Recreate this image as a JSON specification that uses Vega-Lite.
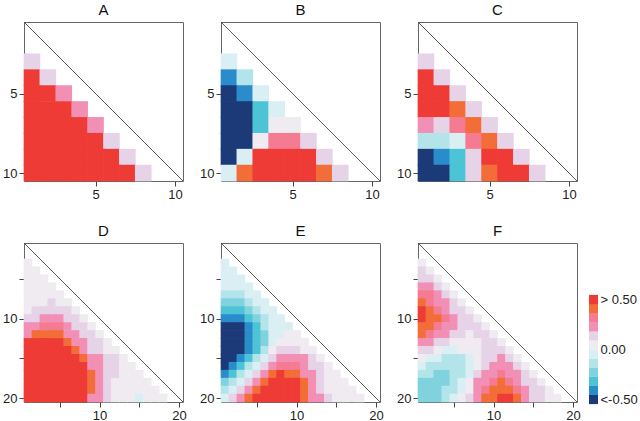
{
"$schema": "https://vega.github.io/schema/vega-lite/v6.json",
"padding": {"left": 2, "top": 2, "right": 2, "bottom": 2},
"background": "white",
"spacing": 21,
"datasets": {
"cells": [
{"p":"A","r":3,"c":1,"v":0.15},
{"p":"A","r":4,"c":1,"v":0.6},{"p":"A","r":4,"c":2,"v":0.15},
{"p":"A","r":5,"c":1,"v":0.6},{"p":"A","r":5,"c":2,"v":0.6},{"p":"A","r":5,"c":3,"v":0.25},
{"p":"A","r":6,"c":1,"v":0.6},{"p":"A","r":6,"c":2,"v":0.6},{"p":"A","r":6,"c":3,"v":0.6},{"p":"A","r":6,"c":4,"v":0.25},
{"p":"A","r":7,"c":1,"v":0.6},{"p":"A","r":7,"c":2,"v":0.6},{"p":"A","r":7,"c":3,"v":0.6},{"p":"A","r":7,"c":4,"v":0.6},{"p":"A","r":7,"c":5,"v":0.25},
{"p":"A","r":8,"c":1,"v":0.6},{"p":"A","r":8,"c":2,"v":0.6},{"p":"A","r":8,"c":3,"v":0.6},{"p":"A","r":8,"c":4,"v":0.6},{"p":"A","r":8,"c":5,"v":0.6},{"p":"A","r":8,"c":6,"v":0.15},
{"p":"A","r":9,"c":1,"v":0.6},{"p":"A","r":9,"c":2,"v":0.6},{"p":"A","r":9,"c":3,"v":0.6},{"p":"A","r":9,"c":4,"v":0.6},{"p":"A","r":9,"c":5,"v":0.6},{"p":"A","r":9,"c":6,"v":0.6},{"p":"A","r":9,"c":7,"v":0.15},
{"p":"A","r":10,"c":1,"v":0.6},{"p":"A","r":10,"c":2,"v":0.6},{"p":"A","r":10,"c":3,"v":0.6},{"p":"A","r":10,"c":4,"v":0.6},{"p":"A","r":10,"c":5,"v":0.6},{"p":"A","r":10,"c":6,"v":0.6},{"p":"A","r":10,"c":7,"v":0.6},{"p":"A","r":10,"c":8,"v":0.15},

{"p":"B","r":3,"c":1,"v":-0.05},
{"p":"B","r":4,"c":1,"v":-0.45},{"p":"B","r":4,"c":2,"v":-0.15},
{"p":"B","r":5,"c":1,"v":-0.6},{"p":"B","r":5,"c":2,"v":-0.45},{"p":"B","r":5,"c":3,"v":-0.05},
{"p":"B","r":6,"c":1,"v":-0.6},{"p":"B","r":6,"c":2,"v":-0.6},{"p":"B","r":6,"c":3,"v":-0.35},{"p":"B","r":6,"c":4,"v":-0.05},
{"p":"B","r":7,"c":1,"v":-0.6},{"p":"B","r":7,"c":2,"v":-0.6},{"p":"B","r":7,"c":3,"v":-0.35},{"p":"B","r":7,"c":4,"v":0.05},{"p":"B","r":7,"c":5,"v":0.05},
{"p":"B","r":8,"c":1,"v":-0.6},{"p":"B","r":8,"c":2,"v":-0.6},{"p":"B","r":8,"c":3,"v":0.05},{"p":"B","r":8,"c":4,"v":0.35},{"p":"B","r":8,"c":5,"v":0.35},{"p":"B","r":8,"c":6,"v":0.15},
{"p":"B","r":9,"c":1,"v":-0.6},{"p":"B","r":9,"c":2,"v":-0.05},{"p":"B","r":9,"c":3,"v":0.6},{"p":"B","r":9,"c":4,"v":0.6},{"p":"B","r":9,"c":5,"v":0.6},{"p":"B","r":9,"c":6,"v":0.6},{"p":"B","r":9,"c":7,"v":0.15},
{"p":"B","r":10,"c":1,"v":-0.05},{"p":"B","r":10,"c":2,"v":0.45},{"p":"B","r":10,"c":3,"v":0.6},{"p":"B","r":10,"c":4,"v":0.6},{"p":"B","r":10,"c":5,"v":0.6},{"p":"B","r":10,"c":6,"v":0.6},{"p":"B","r":10,"c":7,"v":0.45},{"p":"B","r":10,"c":8,"v":0.15},

{"p":"C","r":3,"c":1,"v":0.15},
{"p":"C","r":4,"c":1,"v":0.6},{"p":"C","r":4,"c":2,"v":0.15},
{"p":"C","r":5,"c":1,"v":0.6},{"p":"C","r":5,"c":2,"v":0.6},{"p":"C","r":5,"c":3,"v":0.15},
{"p":"C","r":6,"c":1,"v":0.6},{"p":"C","r":6,"c":2,"v":0.6},{"p":"C","r":6,"c":3,"v":0.45},{"p":"C","r":6,"c":4,"v":0.15},
{"p":"C","r":7,"c":1,"v":0.25},{"p":"C","r":7,"c":2,"v":0.15},{"p":"C","r":7,"c":3,"v":0.35},{"p":"C","r":7,"c":4,"v":0.45},{"p":"C","r":7,"c":5,"v":0.15},
{"p":"C","r":8,"c":1,"v":-0.15},{"p":"C","r":8,"c":2,"v":-0.15},{"p":"C","r":8,"c":3,"v":-0.05},{"p":"C","r":8,"c":4,"v":0.35},{"p":"C","r":8,"c":5,"v":0.45},{"p":"C","r":8,"c":6,"v":0.15},
{"p":"C","r":9,"c":1,"v":-0.6},{"p":"C","r":9,"c":2,"v":-0.45},{"p":"C","r":9,"c":3,"v":-0.35},{"p":"C","r":9,"c":4,"v":0.15},{"p":"C","r":9,"c":5,"v":0.6},{"p":"C","r":9,"c":6,"v":0.6},{"p":"C","r":9,"c":7,"v":0.15},
{"p":"C","r":10,"c":1,"v":-0.6},{"p":"C","r":10,"c":2,"v":-0.6},{"p":"C","r":10,"c":3,"v":-0.35},{"p":"C","r":10,"c":4,"v":0.15},{"p":"C","r":10,"c":5,"v":0.45},{"p":"C","r":10,"c":6,"v":0.6},{"p":"C","r":10,"c":7,"v":0.6},{"p":"C","r":10,"c":8,"v":0.15},

{"p":"D","r":3,"c":1,"v":0.05},
{"p":"D","r":4,"c":1,"v":0.05},{"p":"D","r":4,"c":2,"v":0.05},
{"p":"D","r":5,"c":1,"v":0.05},{"p":"D","r":5,"c":2,"v":0.05},{"p":"D","r":5,"c":3,"v":0.05},
{"p":"D","r":6,"c":1,"v":0.05},{"p":"D","r":6,"c":2,"v":0.05},{"p":"D","r":6,"c":3,"v":0.05},{"p":"D","r":6,"c":4,"v":0.05},
{"p":"D","r":7,"c":1,"v":0.05},{"p":"D","r":7,"c":2,"v":0.05},{"p":"D","r":7,"c":3,"v":0.05},{"p":"D","r":7,"c":4,"v":0.05},{"p":"D","r":7,"c":5,"v":0.05},
{"p":"D","r":8,"c":1,"v":0.05},{"p":"D","r":8,"c":2,"v":0.05},{"p":"D","r":8,"c":3,"v":0.05},{"p":"D","r":8,"c":4,"v":0.15},{"p":"D","r":8,"c":5,"v":0.05},{"p":"D","r":8,"c":6,"v":0.05},
{"p":"D","r":9,"c":1,"v":0.05},{"p":"D","r":9,"c":2,"v":0.15},{"p":"D","r":9,"c":3,"v":0.15},{"p":"D","r":9,"c":4,"v":0.15},{"p":"D","r":9,"c":5,"v":0.15},{"p":"D","r":9,"c":6,"v":0.15},{"p":"D","r":9,"c":7,"v":0.05},
{"p":"D","r":10,"c":1,"v":0.15},{"p":"D","r":10,"c":2,"v":0.15},{"p":"D","r":10,"c":3,"v":0.25},{"p":"D","r":10,"c":4,"v":0.25},{"p":"D","r":10,"c":5,"v":0.25},{"p":"D","r":10,"c":6,"v":0.15},{"p":"D","r":10,"c":7,"v":0.15},{"p":"D","r":10,"c":8,"v":0.05},
{"p":"D","r":11,"c":1,"v":0.25},{"p":"D","r":11,"c":2,"v":0.25},{"p":"D","r":11,"c":3,"v":0.35},{"p":"D","r":11,"c":4,"v":0.35},{"p":"D","r":11,"c":5,"v":0.35},{"p":"D","r":11,"c":6,"v":0.25},{"p":"D","r":11,"c":7,"v":0.15},{"p":"D","r":11,"c":8,"v":0.15},{"p":"D","r":11,"c":9,"v":0.05},
{"p":"D","r":12,"c":1,"v":0.25},{"p":"D","r":12,"c":2,"v":0.45},{"p":"D","r":12,"c":3,"v":0.45},{"p":"D","r":12,"c":4,"v":0.45},{"p":"D","r":12,"c":5,"v":0.45},{"p":"D","r":12,"c":6,"v":0.25},{"p":"D","r":12,"c":7,"v":0.25},{"p":"D","r":12,"c":8,"v":0.15},{"p":"D","r":12,"c":9,"v":0.15},{"p":"D","r":12,"c":10,"v":0.05},
{"p":"D","r":13,"c":1,"v":0.6},{"p":"D","r":13,"c":2,"v":0.6},{"p":"D","r":13,"c":3,"v":0.6},{"p":"D","r":13,"c":4,"v":0.6},{"p":"D","r":13,"c":5,"v":0.6},{"p":"D","r":13,"c":6,"v":0.45},{"p":"D","r":13,"c":7,"v":0.25},{"p":"D","r":13,"c":8,"v":0.25},{"p":"D","r":13,"c":9,"v":0.15},{"p":"D","r":13,"c":10,"v":0.15},{"p":"D","r":13,"c":11,"v":0.05},
{"p":"D","r":14,"c":1,"v":0.6},{"p":"D","r":14,"c":2,"v":0.6},{"p":"D","r":14,"c":3,"v":0.6},{"p":"D","r":14,"c":4,"v":0.6},{"p":"D","r":14,"c":5,"v":0.6},{"p":"D","r":14,"c":6,"v":0.6},{"p":"D","r":14,"c":7,"v":0.45},{"p":"D","r":14,"c":8,"v":0.25},{"p":"D","r":14,"c":9,"v":0.15},{"p":"D","r":14,"c":10,"v":0.15},{"p":"D","r":14,"c":11,"v":0.05},{"p":"D","r":14,"c":12,"v":0.05},
{"p":"D","r":15,"c":1,"v":0.6},{"p":"D","r":15,"c":2,"v":0.6},{"p":"D","r":15,"c":3,"v":0.6},{"p":"D","r":15,"c":4,"v":0.6},{"p":"D","r":15,"c":5,"v":0.6},{"p":"D","r":15,"c":6,"v":0.6},{"p":"D","r":15,"c":7,"v":0.6},{"p":"D","r":15,"c":8,"v":0.45},{"p":"D","r":15,"c":9,"v":0.25},{"p":"D","r":15,"c":10,"v":0.25},{"p":"D","r":15,"c":11,"v":0.15},{"p":"D","r":15,"c":12,"v":0.15},{"p":"D","r":15,"c":13,"v":0.05},
{"p":"D","r":16,"c":1,"v":0.6},{"p":"D","r":16,"c":2,"v":0.6},{"p":"D","r":16,"c":3,"v":0.6},{"p":"D","r":16,"c":4,"v":0.6},{"p":"D","r":16,"c":5,"v":0.6},{"p":"D","r":16,"c":6,"v":0.6},{"p":"D","r":16,"c":7,"v":0.6},{"p":"D","r":16,"c":8,"v":0.6},{"p":"D","r":16,"c":9,"v":0.25},{"p":"D","r":16,"c":10,"v":0.25},{"p":"D","r":16,"c":11,"v":0.15},{"p":"D","r":16,"c":12,"v":0.15},{"p":"D","r":16,"c":13,"v":0.05},{"p":"D","r":16,"c":14,"v":0.05},
{"p":"D","r":17,"c":1,"v":0.6},{"p":"D","r":17,"c":2,"v":0.6},{"p":"D","r":17,"c":3,"v":0.6},{"p":"D","r":17,"c":4,"v":0.6},{"p":"D","r":17,"c":5,"v":0.6},{"p":"D","r":17,"c":6,"v":0.6},{"p":"D","r":17,"c":7,"v":0.6},{"p":"D","r":17,"c":8,"v":0.6},{"p":"D","r":17,"c":9,"v":0.45},{"p":"D","r":17,"c":10,"v":0.25},{"p":"D","r":17,"c":11,"v":0.15},{"p":"D","r":17,"c":12,"v":0.15},{"p":"D","r":17,"c":13,"v":0.05},{"p":"D","r":17,"c":14,"v":0.05},{"p":"D","r":17,"c":15,"v":0.05},
{"p":"D","r":18,"c":1,"v":0.6},{"p":"D","r":18,"c":2,"v":0.6},{"p":"D","r":18,"c":3,"v":0.6},{"p":"D","r":18,"c":4,"v":0.6},{"p":"D","r":18,"c":5,"v":0.6},{"p":"D","r":18,"c":6,"v":0.6},{"p":"D","r":18,"c":7,"v":0.6},{"p":"D","r":18,"c":8,"v":0.6},{"p":"D","r":18,"c":9,"v":0.45},{"p":"D","r":18,"c":10,"v":0.25},{"p":"D","r":18,"c":11,"v":0.15},{"p":"D","r":18,"c":12,"v":0.05},{"p":"D","r":18,"c":13,"v":0.05},{"p":"D","r":18,"c":14,"v":0.05},{"p":"D","r":18,"c":15,"v":0.05},{"p":"D","r":18,"c":16,"v":0.05},
{"p":"D","r":19,"c":1,"v":0.6},{"p":"D","r":19,"c":2,"v":0.6},{"p":"D","r":19,"c":3,"v":0.6},{"p":"D","r":19,"c":4,"v":0.6},{"p":"D","r":19,"c":5,"v":0.6},{"p":"D","r":19,"c":6,"v":0.6},{"p":"D","r":19,"c":7,"v":0.6},{"p":"D","r":19,"c":8,"v":0.6},{"p":"D","r":19,"c":9,"v":0.45},{"p":"D","r":19,"c":10,"v":0.25},{"p":"D","r":19,"c":11,"v":0.15},{"p":"D","r":19,"c":12,"v":0.05},{"p":"D","r":19,"c":13,"v":0.05},{"p":"D","r":19,"c":14,"v":0.05},{"p":"D","r":19,"c":15,"v":0.05},{"p":"D","r":19,"c":16,"v":0.05},{"p":"D","r":19,"c":17,"v":0.05},
{"p":"D","r":20,"c":1,"v":0.6},{"p":"D","r":20,"c":2,"v":0.6},{"p":"D","r":20,"c":3,"v":0.6},{"p":"D","r":20,"c":4,"v":0.6},{"p":"D","r":20,"c":5,"v":0.6},{"p":"D","r":20,"c":6,"v":0.6},{"p":"D","r":20,"c":7,"v":0.6},{"p":"D","r":20,"c":8,"v":0.6},{"p":"D","r":20,"c":9,"v":0.25},{"p":"D","r":20,"c":10,"v":0.25},{"p":"D","r":20,"c":11,"v":0.15},{"p":"D","r":20,"c":12,"v":0.05},{"p":"D","r":20,"c":13,"v":0.05},{"p":"D","r":20,"c":14,"v":0.05},{"p":"D","r":20,"c":15,"v":-0.05},{"p":"D","r":20,"c":16,"v":0.05},{"p":"D","r":20,"c":17,"v":0.05},{"p":"D","r":20,"c":18,"v":0.05},

{"p":"E","r":3,"c":1,"v":-0.05},
{"p":"E","r":4,"c":1,"v":-0.05},{"p":"E","r":4,"c":2,"v":-0.05},
{"p":"E","r":5,"c":1,"v":-0.05},{"p":"E","r":5,"c":2,"v":-0.05},{"p":"E","r":5,"c":3,"v":-0.05},
{"p":"E","r":6,"c":1,"v":-0.05},{"p":"E","r":6,"c":2,"v":-0.05},{"p":"E","r":6,"c":3,"v":-0.05},{"p":"E","r":6,"c":4,"v":-0.05},
{"p":"E","r":7,"c":1,"v":-0.15},{"p":"E","r":7,"c":2,"v":-0.15},{"p":"E","r":7,"c":3,"v":-0.15},{"p":"E","r":7,"c":4,"v":-0.05},{"p":"E","r":7,"c":5,"v":-0.05},
{"p":"E","r":8,"c":1,"v":-0.25},{"p":"E","r":8,"c":2,"v":-0.25},{"p":"E","r":8,"c":3,"v":-0.25},{"p":"E","r":8,"c":4,"v":-0.15},{"p":"E","r":8,"c":5,"v":-0.05},{"p":"E","r":8,"c":6,"v":-0.05},
{"p":"E","r":9,"c":1,"v":-0.35},{"p":"E","r":9,"c":2,"v":-0.35},{"p":"E","r":9,"c":3,"v":-0.35},{"p":"E","r":9,"c":4,"v":-0.25},{"p":"E","r":9,"c":5,"v":-0.15},{"p":"E","r":9,"c":6,"v":-0.05},{"p":"E","r":9,"c":7,"v":-0.05},
{"p":"E","r":10,"c":1,"v":-0.45},{"p":"E","r":10,"c":2,"v":-0.45},{"p":"E","r":10,"c":3,"v":-0.45},{"p":"E","r":10,"c":4,"v":-0.35},{"p":"E","r":10,"c":5,"v":-0.25},{"p":"E","r":10,"c":6,"v":-0.15},{"p":"E","r":10,"c":7,"v":-0.05},{"p":"E","r":10,"c":8,"v":-0.05},
{"p":"E","r":11,"c":1,"v":-0.6},{"p":"E","r":11,"c":2,"v":-0.6},{"p":"E","r":11,"c":3,"v":-0.6},{"p":"E","r":11,"c":4,"v":-0.45},{"p":"E","r":11,"c":5,"v":-0.35},{"p":"E","r":11,"c":6,"v":-0.15},{"p":"E","r":11,"c":7,"v":-0.05},{"p":"E","r":11,"c":8,"v":-0.05},{"p":"E","r":11,"c":9,"v":-0.05},
{"p":"E","r":12,"c":1,"v":-0.6},{"p":"E","r":12,"c":2,"v":-0.6},{"p":"E","r":12,"c":3,"v":-0.6},{"p":"E","r":12,"c":4,"v":-0.45},{"p":"E","r":12,"c":5,"v":-0.35},{"p":"E","r":12,"c":6,"v":-0.25},{"p":"E","r":12,"c":7,"v":-0.05},{"p":"E","r":12,"c":8,"v":-0.05},{"p":"E","r":12,"c":9,"v":0.05},{"p":"E","r":12,"c":10,"v":0.05},
{"p":"E","r":13,"c":1,"v":-0.6},{"p":"E","r":13,"c":2,"v":-0.6},{"p":"E","r":13,"c":3,"v":-0.6},{"p":"E","r":13,"c":4,"v":-0.45},{"p":"E","r":13,"c":5,"v":-0.35},{"p":"E","r":13,"c":6,"v":-0.25},{"p":"E","r":13,"c":7,"v":-0.05},{"p":"E","r":13,"c":8,"v":0.05},{"p":"E","r":13,"c":9,"v":0.05},{"p":"E","r":13,"c":10,"v":0.05},{"p":"E","r":13,"c":11,"v":0.05},
{"p":"E","r":14,"c":1,"v":-0.6},{"p":"E","r":14,"c":2,"v":-0.6},{"p":"E","r":14,"c":3,"v":-0.6},{"p":"E","r":14,"c":4,"v":-0.45},{"p":"E","r":14,"c":5,"v":-0.35},{"p":"E","r":14,"c":6,"v":-0.15},{"p":"E","r":14,"c":7,"v":0.05},{"p":"E","r":14,"c":8,"v":0.15},{"p":"E","r":14,"c":9,"v":0.15},{"p":"E","r":14,"c":10,"v":0.15},{"p":"E","r":14,"c":11,"v":0.05},{"p":"E","r":14,"c":12,"v":0.05},
{"p":"E","r":15,"c":1,"v":-0.6},{"p":"E","r":15,"c":2,"v":-0.6},{"p":"E","r":15,"c":3,"v":-0.45},{"p":"E","r":15,"c":4,"v":-0.35},{"p":"E","r":15,"c":5,"v":-0.15},{"p":"E","r":15,"c":6,"v":-0.05},{"p":"E","r":15,"c":7,"v":0.15},{"p":"E","r":15,"c":8,"v":0.25},{"p":"E","r":15,"c":9,"v":0.25},{"p":"E","r":15,"c":10,"v":0.25},{"p":"E","r":15,"c":11,"v":0.25},{"p":"E","r":15,"c":12,"v":0.15},{"p":"E","r":15,"c":13,"v":0.05},
{"p":"E","r":16,"c":1,"v":-0.6},{"p":"E","r":16,"c":2,"v":-0.45},{"p":"E","r":16,"c":3,"v":-0.35},{"p":"E","r":16,"c":4,"v":-0.15},{"p":"E","r":16,"c":5,"v":-0.05},{"p":"E","r":16,"c":6,"v":0.15},{"p":"E","r":16,"c":7,"v":0.25},{"p":"E","r":16,"c":8,"v":0.35},{"p":"E","r":16,"c":9,"v":0.35},{"p":"E","r":16,"c":10,"v":0.35},{"p":"E","r":16,"c":11,"v":0.25},{"p":"E","r":16,"c":12,"v":0.15},{"p":"E","r":16,"c":13,"v":0.15},{"p":"E","r":16,"c":14,"v":0.05},
{"p":"E","r":17,"c":1,"v":-0.45},{"p":"E","r":17,"c":2,"v":-0.35},{"p":"E","r":17,"c":3,"v":-0.15},{"p":"E","r":17,"c":4,"v":-0.05},{"p":"E","r":17,"c":5,"v":0.15},{"p":"E","r":17,"c":6,"v":0.25},{"p":"E","r":17,"c":7,"v":0.45},{"p":"E","r":17,"c":8,"v":0.6},{"p":"E","r":17,"c":9,"v":0.45},{"p":"E","r":17,"c":10,"v":0.45},{"p":"E","r":17,"c":11,"v":0.25},{"p":"E","r":17,"c":12,"v":0.25},{"p":"E","r":17,"c":13,"v":0.15},{"p":"E","r":17,"c":14,"v":0.05},{"p":"E","r":17,"c":15,"v":0.05},
{"p":"E","r":18,"c":1,"v":-0.25},{"p":"E","r":18,"c":2,"v":-0.15},{"p":"E","r":18,"c":3,"v":-0.05},{"p":"E","r":18,"c":4,"v":0.15},{"p":"E","r":18,"c":5,"v":0.25},{"p":"E","r":18,"c":6,"v":0.45},{"p":"E","r":18,"c":7,"v":0.6},{"p":"E","r":18,"c":8,"v":0.6},{"p":"E","r":18,"c":9,"v":0.6},{"p":"E","r":18,"c":10,"v":0.6},{"p":"E","r":18,"c":11,"v":0.45},{"p":"E","r":18,"c":12,"v":0.25},{"p":"E","r":18,"c":13,"v":0.15},{"p":"E","r":18,"c":14,"v":0.05},{"p":"E","r":18,"c":15,"v":0.05},{"p":"E","r":18,"c":16,"v":0.05},
{"p":"E","r":19,"c":1,"v":-0.15},{"p":"E","r":19,"c":2,"v":-0.05},{"p":"E","r":19,"c":3,"v":0.15},{"p":"E","r":19,"c":4,"v":0.25},{"p":"E","r":19,"c":5,"v":0.45},{"p":"E","r":19,"c":6,"v":0.6},{"p":"E","r":19,"c":7,"v":0.6},{"p":"E","r":19,"c":8,"v":0.6},{"p":"E","r":19,"c":9,"v":0.6},{"p":"E","r":19,"c":10,"v":0.6},{"p":"E","r":19,"c":11,"v":0.45},{"p":"E","r":19,"c":12,"v":0.25},{"p":"E","r":19,"c":13,"v":0.15},{"p":"E","r":19,"c":14,"v":0.05},{"p":"E","r":19,"c":15,"v":0.05},{"p":"E","r":19,"c":16,"v":0.05},{"p":"E","r":19,"c":17,"v":0.05},
{"p":"E","r":20,"c":1,"v":-0.05},{"p":"E","r":20,"c":2,"v":0.15},{"p":"E","r":20,"c":3,"v":0.25},{"p":"E","r":20,"c":4,"v":0.45},{"p":"E","r":20,"c":5,"v":0.6},{"p":"E","r":20,"c":6,"v":0.6},{"p":"E","r":20,"c":7,"v":0.6},{"p":"E","r":20,"c":8,"v":0.6},{"p":"E","r":20,"c":9,"v":0.6},{"p":"E","r":20,"c":10,"v":0.6},{"p":"E","r":20,"c":11,"v":0.45},{"p":"E","r":20,"c":12,"v":0.25},{"p":"E","r":20,"c":13,"v":0.25},{"p":"E","r":20,"c":14,"v":0.15},{"p":"E","r":20,"c":15,"v":0.05},{"p":"E","r":20,"c":16,"v":0.05},{"p":"E","r":20,"c":17,"v":0.05},{"p":"E","r":20,"c":18,"v":0.05},

{"p":"F","r":3,"c":1,"v":0.05},
{"p":"F","r":4,"c":1,"v":0.15},{"p":"F","r":4,"c":2,"v":0.05},
{"p":"F","r":5,"c":1,"v":0.15},{"p":"F","r":5,"c":2,"v":0.15},{"p":"F","r":5,"c":3,"v":0.05},
{"p":"F","r":6,"c":1,"v":0.25},{"p":"F","r":6,"c":2,"v":0.25},{"p":"F","r":6,"c":3,"v":0.15},{"p":"F","r":6,"c":4,"v":0.05},
{"p":"F","r":7,"c":1,"v":0.35},{"p":"F","r":7,"c":2,"v":0.35},{"p":"F","r":7,"c":3,"v":0.25},{"p":"F","r":7,"c":4,"v":0.15},{"p":"F","r":7,"c":5,"v":0.05},
{"p":"F","r":8,"c":1,"v":0.45},{"p":"F","r":8,"c":2,"v":0.35},{"p":"F","r":8,"c":3,"v":0.25},{"p":"F","r":8,"c":4,"v":0.25},{"p":"F","r":8,"c":5,"v":0.15},{"p":"F","r":8,"c":6,"v":0.05},
{"p":"F","r":9,"c":1,"v":0.6},{"p":"F","r":9,"c":2,"v":0.45},{"p":"F","r":9,"c":3,"v":0.35},{"p":"F","r":9,"c":4,"v":0.25},{"p":"F","r":9,"c":5,"v":0.15},{"p":"F","r":9,"c":6,"v":0.15},{"p":"F","r":9,"c":7,"v":0.05},
{"p":"F","r":10,"c":1,"v":0.6},{"p":"F","r":10,"c":2,"v":0.45},{"p":"F","r":10,"c":3,"v":0.45},{"p":"F","r":10,"c":4,"v":0.35},{"p":"F","r":10,"c":5,"v":0.25},{"p":"F","r":10,"c":6,"v":0.15},{"p":"F","r":10,"c":7,"v":0.15},{"p":"F","r":10,"c":8,"v":0.05},
{"p":"F","r":11,"c":1,"v":0.45},{"p":"F","r":11,"c":2,"v":0.45},{"p":"F","r":11,"c":3,"v":0.35},{"p":"F","r":11,"c":4,"v":0.25},{"p":"F","r":11,"c":5,"v":0.25},{"p":"F","r":11,"c":6,"v":0.15},{"p":"F","r":11,"c":7,"v":0.15},{"p":"F","r":11,"c":8,"v":0.15},{"p":"F","r":11,"c":9,"v":0.05},
{"p":"F","r":12,"c":1,"v":0.45},{"p":"F","r":12,"c":2,"v":0.35},{"p":"F","r":12,"c":3,"v":0.25},{"p":"F","r":12,"c":4,"v":0.25},{"p":"F","r":12,"c":5,"v":0.15},{"p":"F","r":12,"c":6,"v":0.15},{"p":"F","r":12,"c":7,"v":0.05},{"p":"F","r":12,"c":8,"v":0.15},{"p":"F","r":12,"c":9,"v":0.15},{"p":"F","r":12,"c":10,"v":0.05},
{"p":"F","r":13,"c":1,"v":0.25},{"p":"F","r":13,"c":2,"v":0.25},{"p":"F","r":13,"c":3,"v":0.15},{"p":"F","r":13,"c":4,"v":0.15},{"p":"F","r":13,"c":5,"v":0.05},{"p":"F","r":13,"c":6,"v":0.05},{"p":"F","r":13,"c":7,"v":0.05},{"p":"F","r":13,"c":8,"v":0.05},{"p":"F","r":13,"c":9,"v":0.15},{"p":"F","r":13,"c":10,"v":0.15},{"p":"F","r":13,"c":11,"v":0.05},
{"p":"F","r":14,"c":1,"v":0.15},{"p":"F","r":14,"c":2,"v":0.15},{"p":"F","r":14,"c":3,"v":0.05},{"p":"F","r":14,"c":4,"v":-0.05},{"p":"F","r":14,"c":5,"v":-0.05},{"p":"F","r":14,"c":6,"v":0.05},{"p":"F","r":14,"c":7,"v":0.05},{"p":"F","r":14,"c":8,"v":0.05},{"p":"F","r":14,"c":9,"v":0.15},{"p":"F","r":14,"c":10,"v":0.15},{"p":"F","r":14,"c":11,"v":0.15},{"p":"F","r":14,"c":12,"v":0.05},
{"p":"F","r":15,"c":1,"v":0.05},{"p":"F","r":15,"c":2,"v":-0.05},{"p":"F","r":15,"c":3,"v":-0.05},{"p":"F","r":15,"c":4,"v":-0.15},{"p":"F","r":15,"c":5,"v":-0.15},{"p":"F","r":15,"c":6,"v":-0.15},{"p":"F","r":15,"c":7,"v":-0.05},{"p":"F","r":15,"c":8,"v":0.05},{"p":"F","r":15,"c":9,"v":0.15},{"p":"F","r":15,"c":10,"v":0.15},{"p":"F","r":15,"c":11,"v":0.25},{"p":"F","r":15,"c":12,"v":0.15},{"p":"F","r":15,"c":13,"v":0.05},
{"p":"F","r":16,"c":1,"v":-0.05},{"p":"F","r":16,"c":2,"v":-0.15},{"p":"F","r":16,"c":3,"v":-0.15},{"p":"F","r":16,"c":4,"v":-0.15},{"p":"F","r":16,"c":5,"v":-0.15},{"p":"F","r":16,"c":6,"v":-0.15},{"p":"F","r":16,"c":7,"v":-0.05},{"p":"F","r":16,"c":8,"v":0.05},{"p":"F","r":16,"c":9,"v":0.15},{"p":"F","r":16,"c":10,"v":0.25},{"p":"F","r":16,"c":11,"v":0.25},{"p":"F","r":16,"c":12,"v":0.25},{"p":"F","r":16,"c":13,"v":0.15},{"p":"F","r":16,"c":14,"v":0.05},
{"p":"F","r":17,"c":1,"v":-0.15},{"p":"F","r":17,"c":2,"v":-0.15},{"p":"F","r":17,"c":3,"v":-0.25},{"p":"F","r":17,"c":4,"v":-0.25},{"p":"F","r":17,"c":5,"v":-0.15},{"p":"F","r":17,"c":6,"v":-0.15},{"p":"F","r":17,"c":7,"v":-0.05},{"p":"F","r":17,"c":8,"v":0.15},{"p":"F","r":17,"c":9,"v":0.25},{"p":"F","r":17,"c":10,"v":0.25},{"p":"F","r":17,"c":11,"v":0.35},{"p":"F","r":17,"c":12,"v":0.25},{"p":"F","r":17,"c":13,"v":0.25},{"p":"F","r":17,"c":14,"v":0.15},{"p":"F","r":17,"c":15,"v":0.05},
{"p":"F","r":18,"c":1,"v":-0.25},{"p":"F","r":18,"c":2,"v":-0.25},{"p":"F","r":18,"c":3,"v":-0.25},{"p":"F","r":18,"c":4,"v":-0.25},{"p":"F","r":18,"c":5,"v":-0.15},{"p":"F","r":18,"c":6,"v":-0.05},{"p":"F","r":18,"c":7,"v":0.05},{"p":"F","r":18,"c":8,"v":0.25},{"p":"F","r":18,"c":9,"v":0.25},{"p":"F","r":18,"c":10,"v":0.35},{"p":"F","r":18,"c":11,"v":0.45},{"p":"F","r":18,"c":12,"v":0.35},{"p":"F","r":18,"c":13,"v":0.25},{"p":"F","r":18,"c":14,"v":0.15},{"p":"F","r":18,"c":15,"v":0.15},{"p":"F","r":18,"c":16,"v":0.05},
{"p":"F","r":19,"c":1,"v":-0.25},{"p":"F","r":19,"c":2,"v":-0.25},{"p":"F","r":19,"c":3,"v":-0.25},{"p":"F","r":19,"c":4,"v":-0.15},{"p":"F","r":19,"c":5,"v":-0.15},{"p":"F","r":19,"c":6,"v":-0.05},{"p":"F","r":19,"c":7,"v":0.05},{"p":"F","r":19,"c":8,"v":0.25},{"p":"F","r":19,"c":9,"v":0.35},{"p":"F","r":19,"c":10,"v":0.45},{"p":"F","r":19,"c":11,"v":0.45},{"p":"F","r":19,"c":12,"v":0.45},{"p":"F","r":19,"c":13,"v":0.35},{"p":"F","r":19,"c":14,"v":0.25},{"p":"F","r":19,"c":15,"v":0.15},{"p":"F","r":19,"c":16,"v":0.15},{"p":"F","r":19,"c":17,"v":0.05},
{"p":"F","r":20,"c":1,"v":-0.25},{"p":"F","r":20,"c":2,"v":-0.25},{"p":"F","r":20,"c":3,"v":-0.25},{"p":"F","r":20,"c":4,"v":-0.15},{"p":"F","r":20,"c":5,"v":-0.05},{"p":"F","r":20,"c":6,"v":0.05},{"p":"F","r":20,"c":7,"v":0.15},{"p":"F","r":20,"c":8,"v":0.25},{"p":"F","r":20,"c":9,"v":0.45},{"p":"F","r":20,"c":10,"v":0.45},{"p":"F","r":20,"c":11,"v":0.6},{"p":"F","r":20,"c":12,"v":0.6},{"p":"F","r":20,"c":13,"v":0.45},{"p":"F","r":20,"c":14,"v":0.25},{"p":"F","r":20,"c":15,"v":0.15},{"p":"F","r":20,"c":16,"v":0.15},{"p":"F","r":20,"c":17,"v":0.05},{"p":"F","r":20,"c":18,"v":0.05}
],
"legend": [
{"k":1,"v":-0.6},{"k":2,"v":-0.45},{"k":3,"v":-0.35},{"k":4,"v":-0.25},{"k":5,"v":-0.15},{"k":6,"v":-0.05},
{"k":7,"v":0.05},{"k":8,"v":0.15},{"k":9,"v":0.25},{"k":10,"v":0.35},{"k":11,"v":0.45},{"k":12,"v":0.6}
],
"one": [{"n": 1}]
},
"vconcat": [
{"hconcat": [
{"title": "A", "width": 159, "height": 159, "layer": [
 {"data": {"name": "cells"}, "transform": [{"filter": "datum.p == 'A'"}],
  "mark": {"type": "rect", "width": 16.6, "height": 16.6},
  "encoding": {
   "x": {"field": "c", "type": "quantitative", "scale": {"domain": [0.5, 10.5], "nice": false, "zero": false}, "axis": {"values": [5, 10], "title": null}},
   "y": {"field": "r", "type": "quantitative", "scale": {"domain": [0.5, 10.5], "nice": false, "zero": false, "reverse": true}, "axis": {"values": [5, 10], "title": null}},
   "color": {"field": "v", "type": "quantitative", "legend": null, "scale": {"type": "threshold", "domain": [-0.5, -0.4, -0.3, -0.2, -0.1, 0, 0.1, 0.2, 0.3, 0.4, 0.5], "range": ["#1d3a78", "#2a8dcb", "#4cc4d6", "#80d3de", "#b2e4ea", "#d9eff4", "#efebf0", "#e6d3e8", "#f28fb5", "#f47b91", "#f36d38", "#ef3b36"]}}
  }},
 {"data": {"name": "one"}, "mark": {"type": "rule", "color": "#333", "strokeWidth": 0.8},
  "encoding": {"x": {"datum": 0.5}, "y": {"datum": 0.5}, "x2": {"datum": 10.5}, "y2": {"datum": 10.5}}}
]},
{"title": "B", "width": 159, "height": 159, "layer": [
 {"data": {"name": "cells"}, "transform": [{"filter": "datum.p == 'B'"}],
  "mark": {"type": "rect", "width": 16.6, "height": 16.6},
  "encoding": {
   "x": {"field": "c", "type": "quantitative", "scale": {"domain": [0.5, 10.5], "nice": false, "zero": false}, "axis": {"values": [5, 10], "title": null}},
   "y": {"field": "r", "type": "quantitative", "scale": {"domain": [0.5, 10.5], "nice": false, "zero": false, "reverse": true}, "axis": {"values": [5, 10], "title": null}},
   "color": {"field": "v", "type": "quantitative", "legend": null, "scale": {"type": "threshold", "domain": [-0.5, -0.4, -0.3, -0.2, -0.1, 0, 0.1, 0.2, 0.3, 0.4, 0.5], "range": ["#1d3a78", "#2a8dcb", "#4cc4d6", "#80d3de", "#b2e4ea", "#d9eff4", "#efebf0", "#e6d3e8", "#f28fb5", "#f47b91", "#f36d38", "#ef3b36"]}}
  }},
 {"data": {"name": "one"}, "mark": {"type": "rule", "color": "#333", "strokeWidth": 0.8},
  "encoding": {"x": {"datum": 0.5}, "y": {"datum": 0.5}, "x2": {"datum": 10.5}, "y2": {"datum": 10.5}}}
]},
{"title": "C", "width": 159, "height": 159, "layer": [
 {"data": {"name": "cells"}, "transform": [{"filter": "datum.p == 'C'"}],
  "mark": {"type": "rect", "width": 16.6, "height": 16.6},
  "encoding": {
   "x": {"field": "c", "type": "quantitative", "scale": {"domain": [0.5, 10.5], "nice": false, "zero": false}, "axis": {"values": [5, 10], "title": null}},
   "y": {"field": "r", "type": "quantitative", "scale": {"domain": [0.5, 10.5], "nice": false, "zero": false, "reverse": true}, "axis": {"values": [5, 10], "title": null}},
   "color": {"field": "v", "type": "quantitative", "legend": null, "scale": {"type": "threshold", "domain": [-0.5, -0.4, -0.3, -0.2, -0.1, 0, 0.1, 0.2, 0.3, 0.4, 0.5], "range": ["#1d3a78", "#2a8dcb", "#4cc4d6", "#80d3de", "#b2e4ea", "#d9eff4", "#efebf0", "#e6d3e8", "#f28fb5", "#f47b91", "#f36d38", "#ef3b36"]}}
  }},
 {"data": {"name": "one"}, "mark": {"type": "rule", "color": "#333", "strokeWidth": 0.8},
  "encoding": {"x": {"datum": 0.5}, "y": {"datum": 0.5}, "x2": {"datum": 10.5}, "y2": {"datum": 10.5}}}
]}
], "spacing": 15},
{"hconcat": [
{"hconcat": [
{"title": "D", "width": 159, "height": 159, "layer": [
 {"data": {"name": "cells"}, "transform": [{"filter": "datum.p == 'D'"}],
  "mark": {"type": "rect", "width": 8.6, "height": 8.6},
  "encoding": {
   "x": {"field": "c", "type": "quantitative", "scale": {"domain": [0.5, 20.5], "nice": false, "zero": false}, "axis": {"values": [5, 10, 15, 20], "title": null, "labelExpr": "datum.value % 10 == 0 ? datum.label : ''"}},
   "y": {"field": "r", "type": "quantitative", "scale": {"domain": [0.5, 20.5], "nice": false, "zero": false, "reverse": true}, "axis": {"values": [5, 10, 15, 20], "title": null, "labelExpr": "datum.value % 10 == 0 ? datum.label : ''"}},
   "color": {"field": "v", "type": "quantitative", "legend": null, "scale": {"type": "threshold", "domain": [-0.5, -0.4, -0.3, -0.2, -0.1, 0, 0.1, 0.2, 0.3, 0.4, 0.5], "range": ["#1d3a78", "#2a8dcb", "#4cc4d6", "#80d3de", "#b2e4ea", "#d9eff4", "#efebf0", "#e6d3e8", "#f28fb5", "#f47b91", "#f36d38", "#ef3b36"]}}
  }},
 {"data": {"name": "one"}, "mark": {"type": "rule", "color": "#333", "strokeWidth": 0.8},
  "encoding": {"x": {"datum": 0.5}, "y": {"datum": 0.5}, "x2": {"datum": 20.5}, "y2": {"datum": 20.5}}}
]},
{"title": "E", "width": 159, "height": 159, "layer": [
 {"data": {"name": "cells"}, "transform": [{"filter": "datum.p == 'E'"}],
  "mark": {"type": "rect", "width": 8.6, "height": 8.6},
  "encoding": {
   "x": {"field": "c", "type": "quantitative", "scale": {"domain": [0.5, 20.5], "nice": false, "zero": false}, "axis": {"values": [5, 10, 15, 20], "title": null, "labelExpr": "datum.value % 10 == 0 ? datum.label : ''"}},
   "y": {"field": "r", "type": "quantitative", "scale": {"domain": [0.5, 20.5], "nice": false, "zero": false, "reverse": true}, "axis": {"values": [5, 10, 15, 20], "title": null, "labelExpr": "datum.value % 10 == 0 ? datum.label : ''"}},
   "color": {"field": "v", "type": "quantitative", "legend": null, "scale": {"type": "threshold", "domain": [-0.5, -0.4, -0.3, -0.2, -0.1, 0, 0.1, 0.2, 0.3, 0.4, 0.5], "range": ["#1d3a78", "#2a8dcb", "#4cc4d6", "#80d3de", "#b2e4ea", "#d9eff4", "#efebf0", "#e6d3e8", "#f28fb5", "#f47b91", "#f36d38", "#ef3b36"]}}
  }},
 {"data": {"name": "one"}, "mark": {"type": "rule", "color": "#333", "strokeWidth": 0.8},
  "encoding": {"x": {"datum": 0.5}, "y": {"datum": 0.5}, "x2": {"datum": 20.5}, "y2": {"datum": 20.5}}}
]},
{"title": "F", "width": 159, "height": 159, "layer": [
 {"data": {"name": "cells"}, "transform": [{"filter": "datum.p == 'F'"}],
  "mark": {"type": "rect", "width": 8.6, "height": 8.6},
  "encoding": {
   "x": {"field": "c", "type": "quantitative", "scale": {"domain": [0.5, 20.5], "nice": false, "zero": false}, "axis": {"values": [5, 10, 15, 20], "title": null, "labelExpr": "datum.value % 10 == 0 ? datum.label : ''"}},
   "y": {"field": "r", "type": "quantitative", "scale": {"domain": [0.5, 20.5], "nice": false, "zero": false, "reverse": true}, "axis": {"values": [5, 10, 15, 20], "title": null, "labelExpr": "datum.value % 10 == 0 ? datum.label : ''"}},
   "color": {"field": "v", "type": "quantitative", "legend": null, "scale": {"type": "threshold", "domain": [-0.5, -0.4, -0.3, -0.2, -0.1, 0, 0.1, 0.2, 0.3, 0.4, 0.5], "range": ["#1d3a78", "#2a8dcb", "#4cc4d6", "#80d3de", "#b2e4ea", "#d9eff4", "#efebf0", "#e6d3e8", "#f28fb5", "#f47b91", "#f36d38", "#ef3b36"]}}
  }},
 {"data": {"name": "one"}, "mark": {"type": "rule", "color": "#333", "strokeWidth": 0.8},
  "encoding": {"x": {"datum": 0.5}, "y": {"datum": 0.5}, "x2": {"datum": 20.5}, "y2": {"datum": 20.5}}}
]}
], "spacing": 12},
{"title": " ", "width": 9, "height": 161, "data": {"name": "legend"},
 "view": {"stroke": null},
 "mark": {"type": "rect", "height": 9.3},
 "encoding": {
  "y": {"field": "k", "type": "quantitative", "scale": {"domain": [0.5, 18.23], "nice": false, "zero": false},
        "axis": {"orient": "right", "values": [1, 6.5, 12], "title": null, "ticks": false, "domain": false, "labelPadding": 2,
                 "labelExpr": "datum.value == 12 ? '> 0.50' : datum.value == 1 ? '<-0.50' : '0.00'"}},
  "color": {"field": "v", "type": "quantitative", "legend": null, "scale": {"type": "threshold", "domain": [-0.5, -0.4, -0.3, -0.2, -0.1, 0, 0.1, 0.2, 0.3, 0.4, 0.5], "range": ["#1d3a78", "#2a8dcb", "#4cc4d6", "#80d3de", "#b2e4ea", "#d9eff4", "#efebf0", "#e6d3e8", "#f28fb5", "#f47b91", "#f36d38", "#ef3b36"]}}
 }}
], "spacing": 8}
],
"config": {
 "font": "Liberation Sans",
 "view": {"stroke": "#666", "strokeWidth": 1},
 "axis": {"grid": false, "domain": false, "tickSize": 5, "tickColor": "#444", "labelFontSize": 13, "labelColor": "#222", "labelFont": "Liberation Sans", "labelPadding": 2},
 "title": {"fontSize": 15, "fontWeight": "normal", "font": "Liberation Sans", "offset": 4, "color": "#111"}
}
}
